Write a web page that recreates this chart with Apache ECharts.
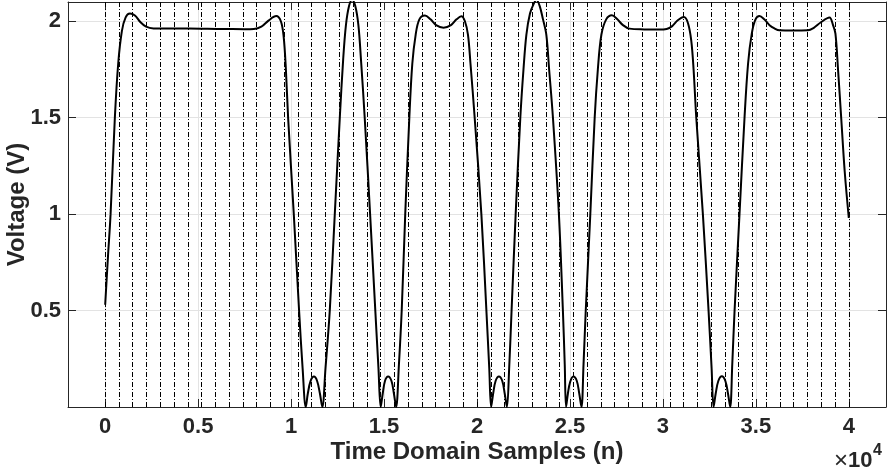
<!DOCTYPE html>
<html>
  <head>
    <title>Time Domain Samples</title>
    <meta charset='utf-8' />
    <style>
      html, body { margin: 0; padding: 0; background: #fff; }
      #content { width: 894px; height: 474px; }
    </style>
  </head>
  <body>
    <div id="content"></div>

    <script src="https://cdn.jsdelivr.net/npm/echarts@6/dist/echarts.min.js"></script>
    <script type="text/javascript">
      // trace: sample index (n) and voltage (V)
      var sampleIdx = [
        0, 150, 290, 520, 700, 900, 1100, 1330, 1600, 1900, 2200, 2600, 3500, 4500, 5500, 6500, 7500, 8000, 8400, 8800,
        9200, 9450, 9600, 9720, 9840, 10145, 10430, 10620, 10790,
        10900, 11050, 11230, 11400, 11550, 11680,
        11850, 12080, 12350, 12620, 12800, 12950, 13120, 13280, 13450, 13620, 13760, 13960, 14250, 14530, 14700, 14820,
        14930, 15050, 15220, 15400, 15530, 15650,
        15800, 15950, 16140, 16360, 16520, 16700, 16900, 17200, 17500, 17800, 18200, 18600, 18900, 19160, 19350, 19515,
        19650, 19875, 20235, 20505, 20660, 20760,
        20870, 21000, 21180, 21360, 21490, 21610,
        21730, 21860, 22080, 22330, 22500, 22655, 22850, 23050, 23200, 23370, 23550, 23730, 23880, 24085, 24405, 24620,
        24720, 24790,
        24890, 25010, 25180, 25370, 25500, 25620,
        25730, 25850, 26095, 26330, 26500, 26690, 26950, 27255, 27550, 27850, 28200, 29000, 29800, 30200, 30500, 30800,
        31130, 31350, 31525, 31650, 31795, 32150, 32455, 32620, 32725,
        32840, 32980, 33170, 33360, 33500, 33620,
        33730, 33855, 34120, 34390, 34580, 34780, 34980, 35195, 35450, 35735, 36000, 36270, 37000, 37795, 38100, 38500,
        38960, 39150, 39280, 39420, 39590, 39780, 39999
      ];
      var voltage = [
        0.53, 0.78, 1.00, 1.50, 1.78, 1.95, 2.02, 2.04, 2.03, 1.995, 1.972, 1.963, 1.962, 1.962, 1.961, 1.960, 1.959, 1.960, 1.972, 2.005,
        2.027, 2.00, 1.92, 1.75, 1.50, 1.00, 0.50, 0.20, 0.00,
        0.07, 0.135, 0.158, 0.135, 0.07, 0.00,
        0.20, 0.50, 1.00, 1.50, 1.80, 1.98, 2.08, 2.11, 2.08, 1.98, 1.80, 1.50, 1.00, 0.50, 0.20, 0.00,
        0.07, 0.135, 0.158, 0.135, 0.07, 0.00,
        0.22, 0.50, 1.00, 1.50, 1.78, 1.93, 2.01, 2.03, 2.01, 1.98, 1.967, 1.98, 2.01, 2.026, 2.00, 1.93,
        1.78, 1.50, 1.00, 0.50, 0.20, 0.00,
        0.07, 0.135, 0.158, 0.135, 0.07, 0.00,
        0.20, 0.50, 1.00, 1.50, 1.75, 1.93, 2.04, 2.09, 2.11, 2.08, 2.01, 1.93, 1.75, 1.50, 1.00, 0.50,
        0.22, 0.00,
        0.07, 0.13, 0.158, 0.135, 0.07, 0.00,
        0.22, 0.50, 1.00, 1.50, 1.75, 1.93, 2.01, 2.031, 2.01, 1.98, 1.962, 1.958, 1.957, 1.960, 1.975, 2.005,
        2.022, 1.99, 1.90, 1.75, 1.50, 1.00, 0.50, 0.20, 0.00,
        0.07, 0.135, 0.16, 0.135, 0.07, 0.00,
        0.22, 0.50, 1.00, 1.50, 1.78, 1.936, 2.01, 2.027, 2.01, 1.98, 1.963, 1.953, 1.952, 1.953, 1.965, 1.995,
        2.019, 1.98, 1.936, 1.75, 1.50, 1.22, 0.98
      ];

      // x tick positions (samples) and symbol boundaries
      var xTicks = [0, 5000, 10000, 15000, 20000, 25000, 30000, 35000, 40000];
      var totalSamples = 40000;
      var symbolCount = 54;

      var symbolEdges = [];
      for (var k = 0; k <= symbolCount; k++) {
        symbolEdges.push(k * totalSamples / symbolCount);
      }

      var traceData = sampleIdx.map(function (n, i) { return [n, voltage[i]]; });

      var FONT = 'Liberation Sans, Arial, Helvetica, sans-serif';
      var INK = '#262626';
      var GRID = '#e3e3e3';

      var myChart = echarts.init(document.getElementById('content'), null, { renderer: 'canvas' });
      var options = {
        animation: false,
        backgroundColor: '#fff',
        grid: { left: 68, top: 2, width: 818, height: 405, outerBoundsMode: 'none', containLabel: false },
        xAxis: [{
          type: 'value',
          min: -2000,
          max: 42000,
          name: 'Time Domain Samples (n)',
          nameLocation: 'middle',
          nameGap: 33,
          nameMoveOverlap: false,
          nameTextStyle: { fontFamily: FONT, fontWeight: 'bold', fontSize: 24, color: INK },
          axisLine: { show: true, onZero: false, lineStyle: { color: INK, width: 1 } },
          axisTick: { show: true, inside: true, length: 8, customValues: xTicks, lineStyle: { color: INK } },
          axisLabel: {
            show: true, customValues: xTicks, margin: 9,
            fontFamily: FONT, fontWeight: 'bold', fontSize: 22, color: INK,
            formatter: function (v) { return String(v / 10000); }
          },
          splitLine: { show: true, lineStyle: { color: GRID, width: 1 } }
        }, {
          type: 'value',
          position: 'top',
          min: -2000,
          max: 42000,
          axisLine: { show: true, onZero: false, lineStyle: { color: INK, width: 1 } },
          axisTick: { show: true, inside: true, length: 8, customValues: xTicks, lineStyle: { color: INK } },
          axisLabel: { show: false },
          splitLine: { show: false }
        }],
        yAxis: [{
          type: 'value',
          min: 0,
          max: 2.1,
          interval: 0.5,
          name: 'Voltage (V)',
          nameLocation: 'middle',
          nameGap: 39,
          nameMoveOverlap: false,
          nameTextStyle: { fontFamily: FONT, fontWeight: 'bold', fontSize: 24, color: INK },
          axisLine: { show: true, onZero: false, lineStyle: { color: INK, width: 1 } },
          axisTick: { show: true, inside: true, length: 8, lineStyle: { color: INK } },
          axisLabel: {
            show: true, margin: 7, showMinLabel: false, showMaxLabel: false,
            fontFamily: FONT, fontWeight: 'bold', fontSize: 22, color: INK,
            formatter: function (v) { return (v <= 0 || v > 2.05) ? '' : String(v); }
          },
          splitLine: { show: true, lineStyle: { color: GRID, width: 1 } }
        }, {
          type: 'value',
          position: 'right',
          min: 0,
          max: 2.1,
          interval: 0.5,
          axisLine: { show: true, onZero: false, lineStyle: { color: INK, width: 1 } },
          axisTick: { show: true, inside: true, length: 8, lineStyle: { color: INK } },
          axisLabel: { show: false },
          splitLine: { show: false }
        }],
        series: [{
          type: 'line',
          xAxisIndex: 0,
          yAxisIndex: 0,
          data: traceData,
          showSymbol: false,
          smooth: 0.35,
          clip: true,
          silent: true,
          lineStyle: { color: '#000', width: 2 },
          z: 5,
          markLine: {
            silent: true,
            symbol: ['none', 'none'],
            label: { show: false },
            lineStyle: { color: '#000', width: 1, type: [5, 2, 1, 2], opacity: 1 },
            emphasis: { disabled: true },
            data: symbolEdges.map(function (v) { return { xAxis: v }; })
          }
        }],
        graphic: [{
          type: 'text',
          left: 834,
          top: 449,
          style: { text: '\u00d7', fontFamily: FONT, fontSize: 24, fill: INK }
        }, {
          type: 'text',
          left: 848,
          top: 450,
          style: { text: '10', fontFamily: FONT, fontSize: 22, fill: INK, fontWeight: 'bold' }
        }, {
          type: 'text',
          left: 873,
          top: 443,
          style: { text: '4', fontFamily: FONT, fontSize: 16, fill: INK, fontWeight: 'bold' }
        }]
      };
      myChart.setOption(options);
    </script>
  </body>
</html>
